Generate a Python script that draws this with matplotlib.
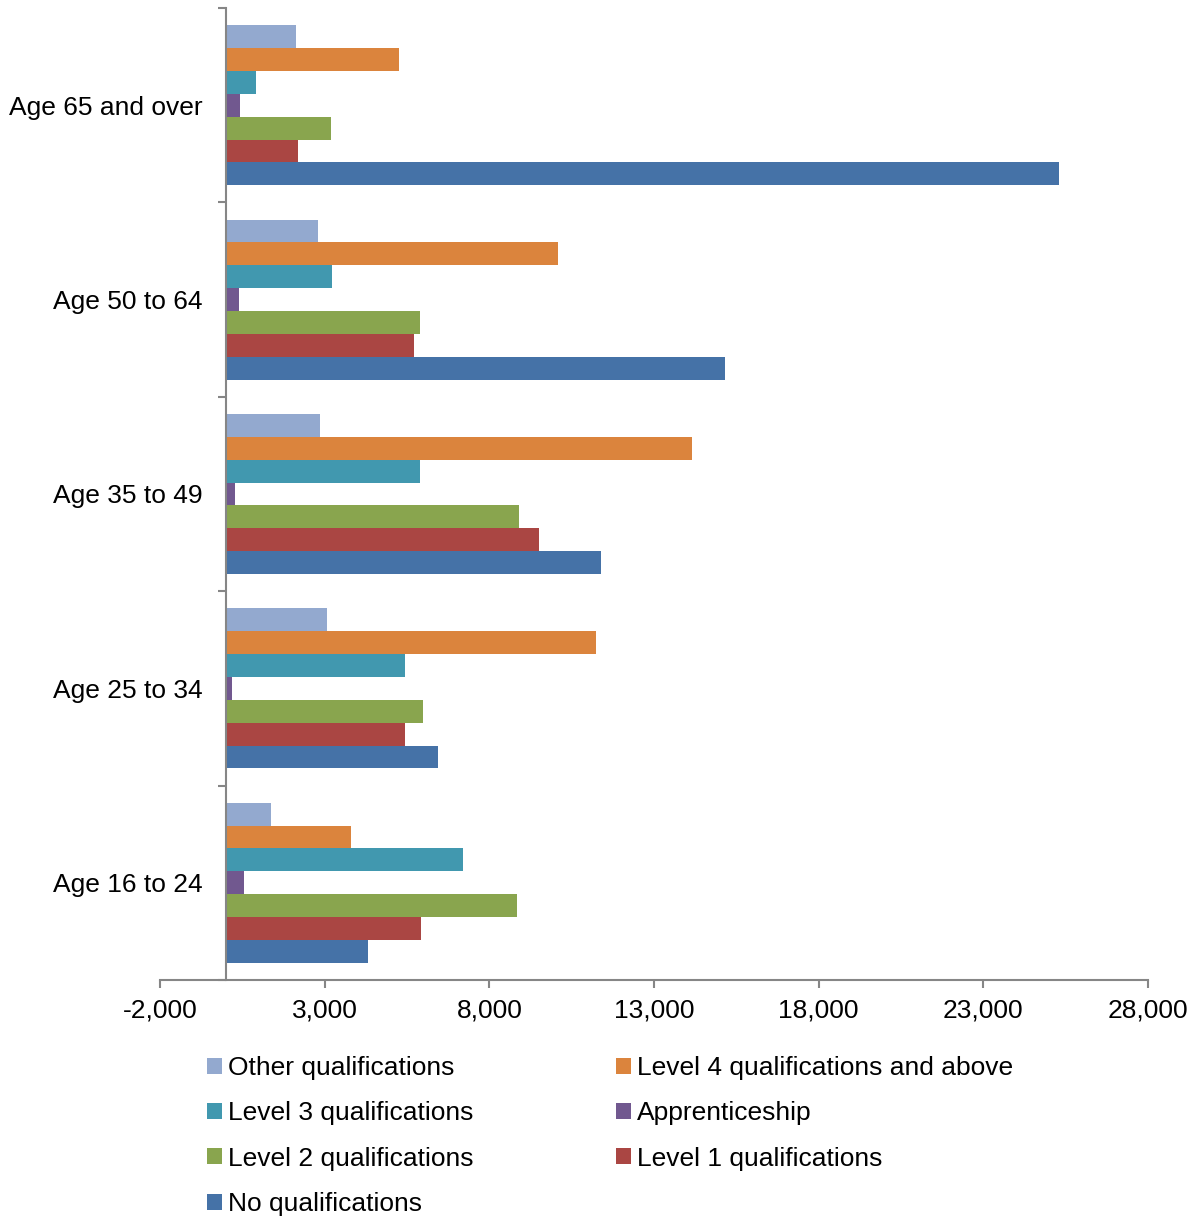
import matplotlib
matplotlib.use("Agg")
import matplotlib.pyplot as plt
import numpy as np
from matplotlib.ticker import FixedLocator, FuncFormatter
from matplotlib.patches import Patch

plt.rcParams['font.family'] = ['Liberation Sans', 'DejaVu Sans']

age_groups = ["Age 16 to 24", "Age 25 to 34", "Age 35 to 49", "Age 50 to 64", "Age 65 and over"]

# Series drawn bottom-to-top inside each age group
series_names = [
    "No qualifications",
    "Level 1 qualifications",
    "Level 2 qualifications",
    "Apprenticeship",
    "Level 3 qualifications",
    "Level 4 qualifications and above",
    "Other qualifications",
]
no_qual = [4310, 6450, 11390, 15160, 25310]
level1 = [5920, 5440, 9510, 5700, 2200]
level2 = [8850, 5980, 8900, 5880, 3180]
apprenticeship = [540, 190, 290, 410, 430]
level3 = [7210, 5440, 5900, 3220, 910]
level4 = [3800, 11250, 14150, 10100, 5270]
other = [1370, 3070, 2860, 2800, 2140]

series_values = [no_qual, level1, level2, apprenticeship, level3, level4, other]
series_colors = ["#4572A7", "#AA4643", "#89A54E", "#71588F", "#4198AF", "#DB843D", "#93A9CF"]

x_ticks = [-2000, 3000, 8000, 13000, 18000, 23000, 28000]

FS = 19

fig = plt.figure(figsize=(11.95, 12.18), dpi=100)
ax = fig.add_axes([160 / 1195, 1 - 980 / 1218, (1148 - 160) / 1195, (980 - 8) / 1218])

n = len(series_names)
h = 1.0 / (n + 1.5)
y = np.arange(len(age_groups))
for i, (vals, col) in enumerate(zip(series_values, series_colors)):
    ax.barh(y + (i - (n - 1) / 2) * h, vals, height=h, color=col,
            edgecolor='none', zorder=2)

ax.set_xlim(-2000, 28000)
ax.set_ylim(-0.5, len(age_groups) - 0.5)

axis_gray = "#868686"
for s in ["top", "right"]:
    ax.spines[s].set_visible(False)
ax.spines["left"].set_position(("data", 0))
ax.spines["left"].set_color(axis_gray)
ax.spines["left"].set_linewidth(1.5)
ax.spines["left"].set_zorder(3)
ax.spines["bottom"].set_color(axis_gray)
ax.spines["bottom"].set_linewidth(1.5)

ax.xaxis.set_major_locator(FixedLocator(x_ticks))
ax.xaxis.set_major_formatter(FuncFormatter(lambda v, p: f"{int(v):,}"))
ax.tick_params(axis="x", direction="out", length=6, width=1.5, color=axis_gray,
               labelsize=FS, pad=7.5, labelcolor="black")

# Category boundaries get tick marks, centres get the labels
ax.yaxis.set_major_locator(FixedLocator(np.arange(-0.5, len(age_groups), 1.0)))
ax.yaxis.set_major_formatter(FuncFormatter(lambda v, p: ""))
ax.set_yticks(y, minor=True)
ax.set_yticklabels(age_groups, minor=True)
ax.tick_params(axis="y", which="major", direction="out", length=6, width=1.5, color=axis_gray)
ax.tick_params(axis="y", which="minor", length=0, labelsize=FS, pad=16.5, labelcolor="black")

# Legend, filled row by row in two columns
order = [6, 4, 2, 0, 5, 3, 1]
handles = [Patch(facecolor=series_colors[k], edgecolor='none') for k in order]
labels = [series_names[k] for k in order]
fig.legend(handles, labels, ncol=2, loc="upper left",
           bbox_to_anchor=(207 / 1195, 1 - 1056 / 1218),
           frameon=False, fontsize=FS, handlelength=0.55, handleheight=0.55,
           handletextpad=0.25, columnspacing=5.4, labelspacing=0.81,
           borderaxespad=0, borderpad=0)

fig.savefig("out.png", dpi=100)
